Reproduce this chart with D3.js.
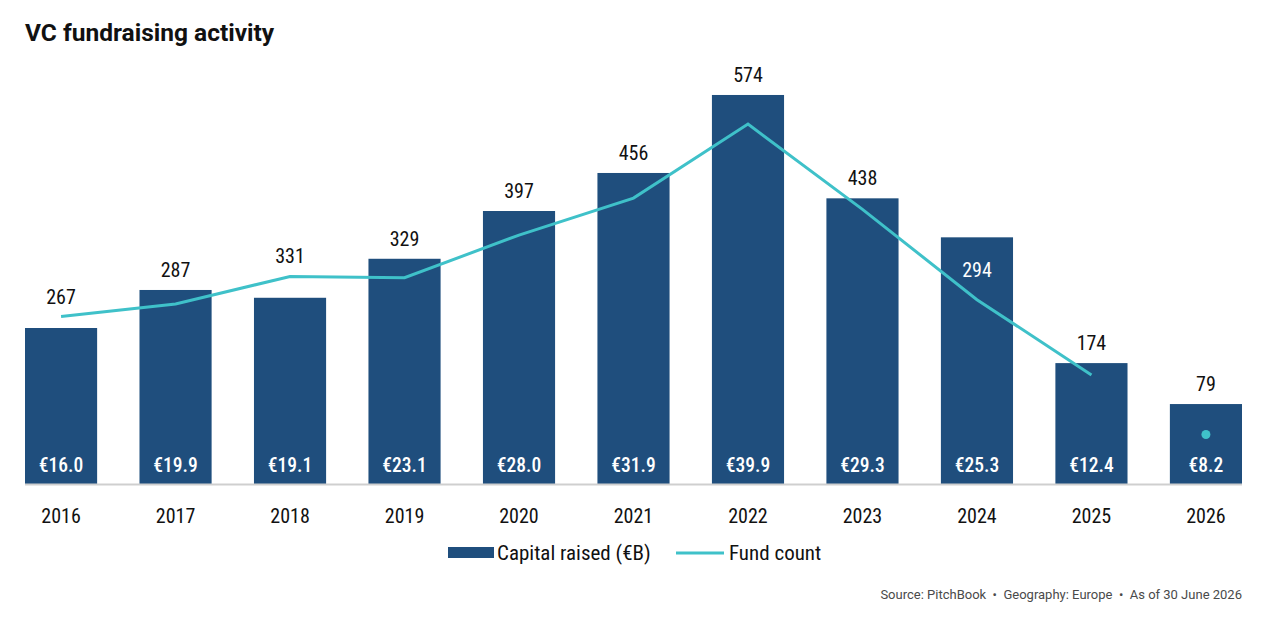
<!DOCTYPE html>
<html>
<head>
<meta charset="utf-8">
<script src="https://cdn.jsdelivr.net/npm/d3@7"></script>
<style>
  body { margin: 0; background: #fff; }
  svg text { font-family: "Roboto Condensed", Roboto, sans-serif; font-stretch: condensed; }
  svg text.plain { font-family: Roboto, sans-serif; font-stretch: normal; }
</style>
</head>
<body>
<svg id="chart" width="1261" height="626"></svg>
<script>
const years = ['2016', '2017', '2018', '2019', '2020', '2021', '2022', '2023', '2024', '2025', '2026'];
const capitalRaised = [16.0, 19.9, 19.1, 23.1, 28.0, 31.9, 39.9, 29.3, 25.3, 12.4, 8.2];
const fundCount = [267, 287, 331, 329, 397, 456, 574, 438, 294, 174, 79];
// last year is partial (as of June), drawn as a lone dot
const partialYear = '2026';
const sourceParts = ['Source: PitchBook', 'Geography: Europe', 'As of 30 June 2026'];

const barColor = '#1f4e7d';
const lineColor = '#3fc1c9';

const svg = d3.select('#chart');
const baseY = 484, topY = 94;

const x = d3.scaleBand().domain(years).range([25, 1242]).paddingInner(0.37).paddingOuter(0);
const yBar = d3.scaleLinear().domain([0, 40]).range([baseY, topY]);
const yLine = d3.scaleLinear().domain([0, 622]).range([baseY, topY]);
const cx = d => x(d) + x.bandwidth() / 2;

svg.append('text')
    .attr('class', 'plain')
    .attr('x', 25).attr('y', 41)
    .attr('font-size', 24.5).attr('font-weight', 700).attr('fill', '#111')
    .text('VC fundraising activity');

const rows = years.map((y, i) => ({ year: y, cap: capitalRaised[i], count: fundCount[i] }));

// bars
svg.append('g').selectAll('rect')
    .data(rows)
    .enter().append('rect')
    .attr('x', d => x(d.year))
    .attr('y', d => yBar(d.cap))
    .attr('width', x.bandwidth())
    .attr('height', d => baseY - yBar(d.cap))
    .attr('fill', barColor);

// axis baseline
svg.append('line')
    .attr('x1', 25).attr('x2', 1242)
    .attr('y1', baseY + 0.5).attr('y2', baseY + 0.5)
    .attr('stroke', '#cfcfcf').attr('stroke-width', 2);

// capital labels inside bars
svg.append('g').selectAll('text')
    .data(rows)
    .enter().append('text')
    .attr('x', d => cx(d.year))
    .attr('y', baseY - 12)
    .attr('text-anchor', 'middle')
    .attr('font-size', 19.5).attr('font-weight', 500).attr('fill', '#fff')
    .text(d => '€' + d.cap.toFixed(1));

// fund count line
const full = rows.filter(d => d.year !== partialYear);
const partial = rows.filter(d => d.year === partialYear);

svg.append('path')
    .datum(full)
    .attr('fill', 'none')
    .attr('stroke', lineColor)
    .attr('stroke-width', 3)
    .attr('d', d3.line().x(d => cx(d.year)).y(d => yLine(d.count)));

svg.append('g').selectAll('circle')
    .data(partial)
    .enter().append('circle')
    .attr('cx', d => cx(d.year))
    .attr('cy', d => yLine(d.count))
    .attr('r', 4.5)
    .attr('fill', lineColor);

// fund count labels: above bar / line point, or inside the bar when line sits deep in it
svg.append('g').selectAll('text')
    .data(rows)
    .enter().append('text')
    .each(function(d) {
        const barTop = yBar(d.cap), pt = yLine(d.count);
        const inside = pt - barTop > 40;
        const cy = inside ? pt - 30 : Math.min(barTop, pt) - 20;
        d3.select(this)
            .attr('x', cx(d.year))
            .attr('y', cy + 7)
            .attr('fill', inside ? '#fff' : '#111');
    })
    .attr('text-anchor', 'middle')
    .attr('font-size', 20)
    .text(d => d.count);

// x axis labels
svg.append('g').selectAll('text')
    .data(years)
    .enter().append('text')
    .attr('x', d => cx(d))
    .attr('y', 523)
    .attr('text-anchor', 'middle')
    .attr('font-size', 20).attr('fill', '#111')
    .text(d => d);

// legend
const legend = svg.append('g');
legend.append('rect')
    .attr('x', 448).attr('y', 547).attr('width', 46).attr('height', 11)
    .attr('fill', barColor);
legend.append('text')
    .attr('x', 497).attr('y', 560)
    .attr('font-size', 21).attr('fill', '#111')
    .text('Capital raised (€B)');
legend.append('line')
    .attr('x1', 676).attr('x2', 724).attr('y1', 553).attr('y2', 553)
    .attr('stroke', lineColor).attr('stroke-width', 3);
legend.append('text')
    .attr('x', 729).attr('y', 560)
    .attr('font-size', 21).attr('fill', '#111')
    .text('Fund count');

// source note
svg.append('text')
    .attr('class', 'plain')
    .attr('x', 1242).attr('y', 599)
    .attr('text-anchor', 'end')
    .attr('font-size', 13).attr('fill', '#4a4a4a')
    .attr('xml:space', 'preserve')
    .style('white-space', 'pre')
    .text(sourceParts.join('  •  '));
</script>
</body>
</html>
